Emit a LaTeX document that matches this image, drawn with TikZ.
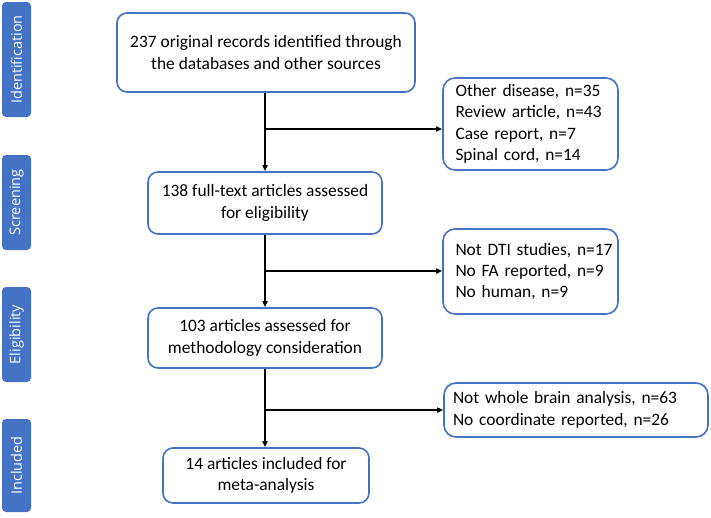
\documentclass[tikz,border=0pt]{standalone}
\usepackage{fontspec}
\setmainfont{Carlito}
\newfontfamily\sidefont{Open Sans}
\usetikzlibrary{arrows.meta}
\definecolor{offblue}{HTML}{4472C4}
\tikzset{
  sidebar/.style={fill=offblue, draw=none, rounded corners=4pt, rotate=90,
    minimum height=29pt, inner sep=0pt, text=white,
    font=\sidefont\fontsize{14.5}{16}\selectfont},
  mainbox/.style={draw=offblue, line width=1.6pt, rounded corners=10pt, fill=white,
    align=center, inner sep=0pt, font=\fontsize{17.4}{21.5}\selectfont},
  exbox/.style={draw=offblue, line width=1.6pt, rounded corners=12pt, fill=white,
    align=left, inner sep=0pt, font=\fontsize{17.4}{21.3}\selectfont},
  arr/.style={line width=1.5pt, draw=black, -{Triangle[length=6pt,width=5pt]}}
}
\begin{document}
\begin{tikzpicture}[x=1pt,y=-1pt]
\useasboundingbox (0,0) rectangle (711,517);
% side bars
\node[sidebar, minimum width=115pt] (sid) at (16.5,59.5) {Identification};
\node[sidebar, minimum width=95pt] (sscr) at (16.5,202.5) {Screening};
\node[sidebar, minimum width=95pt] (seli) at (16.5,334.5) {Eligibility};
\node[sidebar, minimum width=93pt] (sinc) at (16.5,465.5) {Included};
% main boxes
\node[mainbox, minimum width=298pt, minimum height=79pt] (b1) at (266,52.5)
  {237 original records identified through\\the databases and other sources};
\node[mainbox, minimum width=234pt, minimum height=62pt] (b2) at (265,203)
  {138 full-text articles assessed\\for eligibility};
\node[mainbox, minimum width=234pt, minimum height=60pt] (b3) at (265,338)
  {103 articles assessed for\\methodology consideration};
\node[mainbox, minimum width=206pt, minimum height=55pt] (b4) at (266,475.5)
  {14 articles included for\\meta-analysis};
% exclusion boxes
\node[exbox, minimum width=175pt, minimum height=92pt, text width=150pt] (r1) at (530.5,124)
  {\mbox{Other disease, n=35}\\\mbox{Review article, n=43}\\\mbox{Case report, n=7}\\\mbox{Spinal cord, n=14}};
\node[exbox, minimum width=175pt, minimum height=85pt, text width=150pt] (r2) at (530.5,271.5)
  {\mbox{Not DTI studies, n=17}\\\mbox{No FA reported, n=9}\\\mbox{No human, n=9}};
\node[exbox, minimum width=264pt, minimum height=54pt, text width=246pt] (r3) at (576,410)
  {\mbox{Not whole brain analysis, n=63}\\\mbox{No coordinate reported, n=26}};
% junctions
\coordinate (j1) at (265,129);
\coordinate (j2) at (265,271);
\coordinate (j3) at (265,410);
% connectors
\draw[arr] (b1.south -| j1) -- (b2.north -| j1);
\draw[arr] (b2.south -| j2) -- (b3.north -| j2);
\draw[arr] (b3.south -| j3) -- (b4.north -| j3);
\draw[arr] (j1) -- (j1 -| r1.west);
\draw[arr] (j2) -- (j2 -| r2.west);
\draw[arr] (j3) -- (j3 -| r3.west);
\end{tikzpicture}
\end{document}
